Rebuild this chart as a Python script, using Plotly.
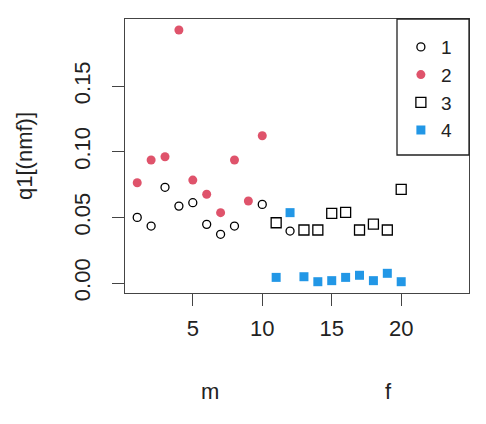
import plotly.graph_objects as go

# Data
x1 = [1, 2, 3, 4, 5, 6, 7, 8, 10, 12]
y1 = [0.050, 0.0434, 0.0729, 0.0586, 0.0612, 0.0447, 0.0371, 0.0434, 0.0599, 0.0396]

x2 = [1, 2, 3, 4, 5, 6, 7, 8, 9, 10]
y2 = [0.0764, 0.0937, 0.0962, 0.1927, 0.0784, 0.0676, 0.0536, 0.0937, 0.0625, 0.1122]

x3 = [11, 13, 14, 15, 16, 17, 18, 19, 20]
y3 = [0.0459, 0.0404, 0.0404, 0.0531, 0.0538, 0.0404, 0.0449, 0.0404, 0.0713]

x4 = [11, 12, 13, 14, 15, 16, 17, 18, 19, 20]
y4 = [0.0043, 0.0536, 0.0048, 0.0010, 0.0018, 0.0043, 0.0059, 0.0018, 0.0074, 0.0010]

legend_names = ["1", "2", "3", "4"]
x_ticks = [5, 10, 15, 20]
y_ticks = [0.00, 0.05, 0.10, 0.15]
group_labels = ["m", "f"]
group_label_x = [6.25, 19.05]

RED = "#DF536B"
BLUE = "#2297E6"
FONT = "Liberation Sans, Arial, sans-serif"
TXT = "#222222"

fig = go.Figure()
fig.add_trace(go.Scatter(x=x1, y=y1, mode="markers", name=legend_names[0],
                         marker=dict(symbol="circle-open", size=8, color="black", line=dict(width=1.3))))
fig.add_trace(go.Scatter(x=x2, y=y2, mode="markers", name=legend_names[1],
                         marker=dict(symbol="circle", size=9, color=RED, line=dict(width=0))))
fig.add_trace(go.Scatter(x=x3, y=y3, mode="markers", name=legend_names[2],
                         marker=dict(symbol="square-open", size=10, color="black", line=dict(width=1.3))))
fig.add_trace(go.Scatter(x=x4, y=y4, mode="markers", name=legend_names[3],
                         marker=dict(symbol="square", size=9, color=BLUE, line=dict(width=0))))

for lab, xv in zip(group_labels, group_label_x):
    fig.add_annotation(x=xv, xref="x", y=-0.36, yref="paper", text=lab, showarrow=False,
                       font=dict(family=FONT, size=22, color=TXT), xanchor="center", yanchor="middle")

# legend frame (R style box in the top-right corner)
fig.add_shape(type="rect", xref="paper", yref="paper", x0=0.7907, x1=1.0, y0=0.5036, y1=1.0,
              line=dict(color="#222222", width=1.3), fillcolor="rgba(0,0,0,0)", layer="above")

# page body has an 8px default margin, so the figure is sized to fit the window
fig.update_layout(
    width=478, height=416,
    margin=dict(l=117, r=17, t=11, b=131),
    paper_bgcolor="white", plot_bgcolor="white",
    font=dict(family=FONT, size=22, color=TXT),
    legend=dict(x=0.802, y=0.967, xanchor="left", yanchor="top",
                borderwidth=0, bgcolor="rgba(0,0,0,0)",
                font=dict(family=FONT, size=19, color=TXT),
                itemsizing="trace", tracegroupgap=0),
    xaxis=dict(range=[0.12, 24.88], tickvals=x_ticks, ticktext=[str(v) for v in x_ticks],
               automargin=False,
               showgrid=False, zeroline=False, showline=True, mirror=True,
               linecolor="#444444", linewidth=1.3, ticks="outside", ticklen=12,
               tickcolor="#444444", tickwidth=1.3, ticklabelstandoff=3),
    yaxis=dict(range=[-0.0076, 0.2011], tickvals=y_ticks, ticktext=["0.00", "0.05", "0.10", "0.15"],
               automargin=False,
               tickangle=-90, showgrid=False, zeroline=False, showline=True, mirror=True,
               linecolor="#444444", linewidth=1.3, ticks="outside", ticklen=12,
               tickcolor="#444444", tickwidth=1.3, ticklabelstandoff=13,
               title=dict(text="q1[(nmf)]", standoff=31, font=dict(family=FONT, size=22, color=TXT))),
)

fig.write_html("out.html")
